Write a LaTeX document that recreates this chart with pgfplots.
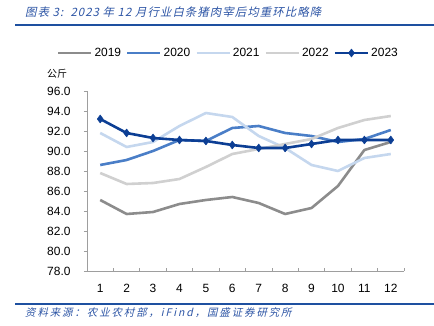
\documentclass[border=0pt]{standalone}
\usepackage{pgfplots}
\pgfplotsset{compat=1.18}
\usepackage{fontspec}
\setmainfont{Liberation Sans}
\newfontfamily\cjk{Noto Sans CJK SC}
\newfontfamily\cjkit[FakeSlant=0.22,LetterSpace=9]{Noto Sans CJK SC}
\newfontfamily\cjkitw[FakeSlant=0.22,LetterSpace=18]{Noto Sans CJK SC}
\definecolor{c19}{RGB}{140,140,140}
\definecolor{c20}{RGB}{74,126,199}
\definecolor{c21}{RGB}{197,215,238}
\definecolor{c22}{RGB}{208,208,208}
\definecolor{c23}{RGB}{12,62,148}
\definecolor{tblue}{RGB}{45,85,165}
\definecolor{lblue}{RGB}{30,80,160}
\begin{document}
\begin{tikzpicture}
\path[use as bounding box] (0,0) rectangle (434bp,326bp);
\draw[lblue, line width=1.3bp] (15bp,301bp) -- (434bp,301bp);
\draw[lblue, line width=1.3bp] (15bp,22bp) -- (434bp,22bp);
\node[anchor=west, inner sep=0pt, text=tblue, font=\cjkit\fontsize{11.5}{13}\selectfont] at (25bp,314bp) {图表 3:\ \ 2023 年 12 月行业白条猪肉宰后均重环比略降};
\node[anchor=west, inner sep=0pt, text=tblue, font=\cjkitw\fontsize{10.5}{12}\selectfont] at (25bp,13bp) {资料来源：农业农村部，iFind，国盛证券研究所};
\node[inner sep=0pt, font=\cjk\fontsize{10}{12}\selectfont] at (57bp,252bp) {公斤};
\begin{axis}[
  at={(87bp,55bp)}, anchor=south west,
  scale only axis, width=317bp, height=180bp,
  xmin=0.5, xmax=12.5, ymin=78, ymax=96,
  axis lines*=left,
  axis line style={draw=black!38, line width=0.8bp},
  xtick={1,...,12},
  minor xtick={0.5,1.5,...,12.5},
  major x tick style={draw=none},
  minor x tick style={draw=black!38, line width=0.8bp},
  ytick={78,80,...,96},
  ytick style={draw=black!38, line width=0.8bp, xshift=-3bp},
  tick align=inside,
  major tick length=3bp, minor tick length=3bp,
  yticklabel style={xshift=-13bp},
  xticklabel style={yshift=-10bp},
  yticklabel={\pgfmathprintnumber[fixed,fixed zerofill,precision=1]{\tick}},
  tick label style={font=\fontsize{12}{14}\selectfont},
  /pgf/number format/assume math mode=true,
  legend style={at={(0.446,1.211)}, anchor=center, draw=none, fill=none,
    legend columns=5, font=\fontsize{12}{14}\selectfont,
    /tikz/every even column/.append style={column sep=3bp}},
  legend image code/.code={\draw[mark repeat=2,mark phase=2,#1] plot coordinates {(0bp,0bp) (16.5bp,0bp) (33bp,0bp)};},
  every axis plot/.append style={line width=2.6bp, line join=round},
]
\addplot[c19, no markers] coordinates {(1,85.1)(2,83.7)(3,83.9)(4,84.7)(5,85.1)(6,85.4)(7,84.8)(8,83.7)(9,84.3)(10,86.5)(11,90.1)(12,90.9)};
\addlegendentry{2019}
\addplot[c20, no markers] coordinates {(1,88.6)(2,89.1)(3,90.0)(4,91.1)(5,91.0)(6,92.3)(7,92.5)(8,91.8)(9,91.5)(10,90.9)(11,91.2)(12,92.1)};
\addlegendentry{2020}
\addplot[c21, no markers] coordinates {(1,91.8)(2,90.4)(3,90.9)(4,92.5)(5,93.8)(6,93.4)(7,91.5)(8,90.3)(9,88.6)(10,88.0)(11,89.3)(12,89.7)};
\addlegendentry{2021}
\addplot[c22, no markers] coordinates {(1,87.8)(2,86.7)(3,86.8)(4,87.2)(5,88.4)(6,89.7)(7,90.2)(8,90.7)(9,91.2)(10,92.3)(11,93.1)(12,93.5)};
\addlegendentry{2022}
\addplot[c23, mark=diamond*, mark size=4bp, mark options={line width=0.5bp}] coordinates {(1,93.2)(2,91.8)(3,91.3)(4,91.1)(5,91.0)(6,90.6)(7,90.3)(8,90.3)(9,90.7)(10,91.1)(11,91.1)(12,91.1)};
\addlegendentry{2023}
\end{axis}
\end{tikzpicture}
\end{document}
